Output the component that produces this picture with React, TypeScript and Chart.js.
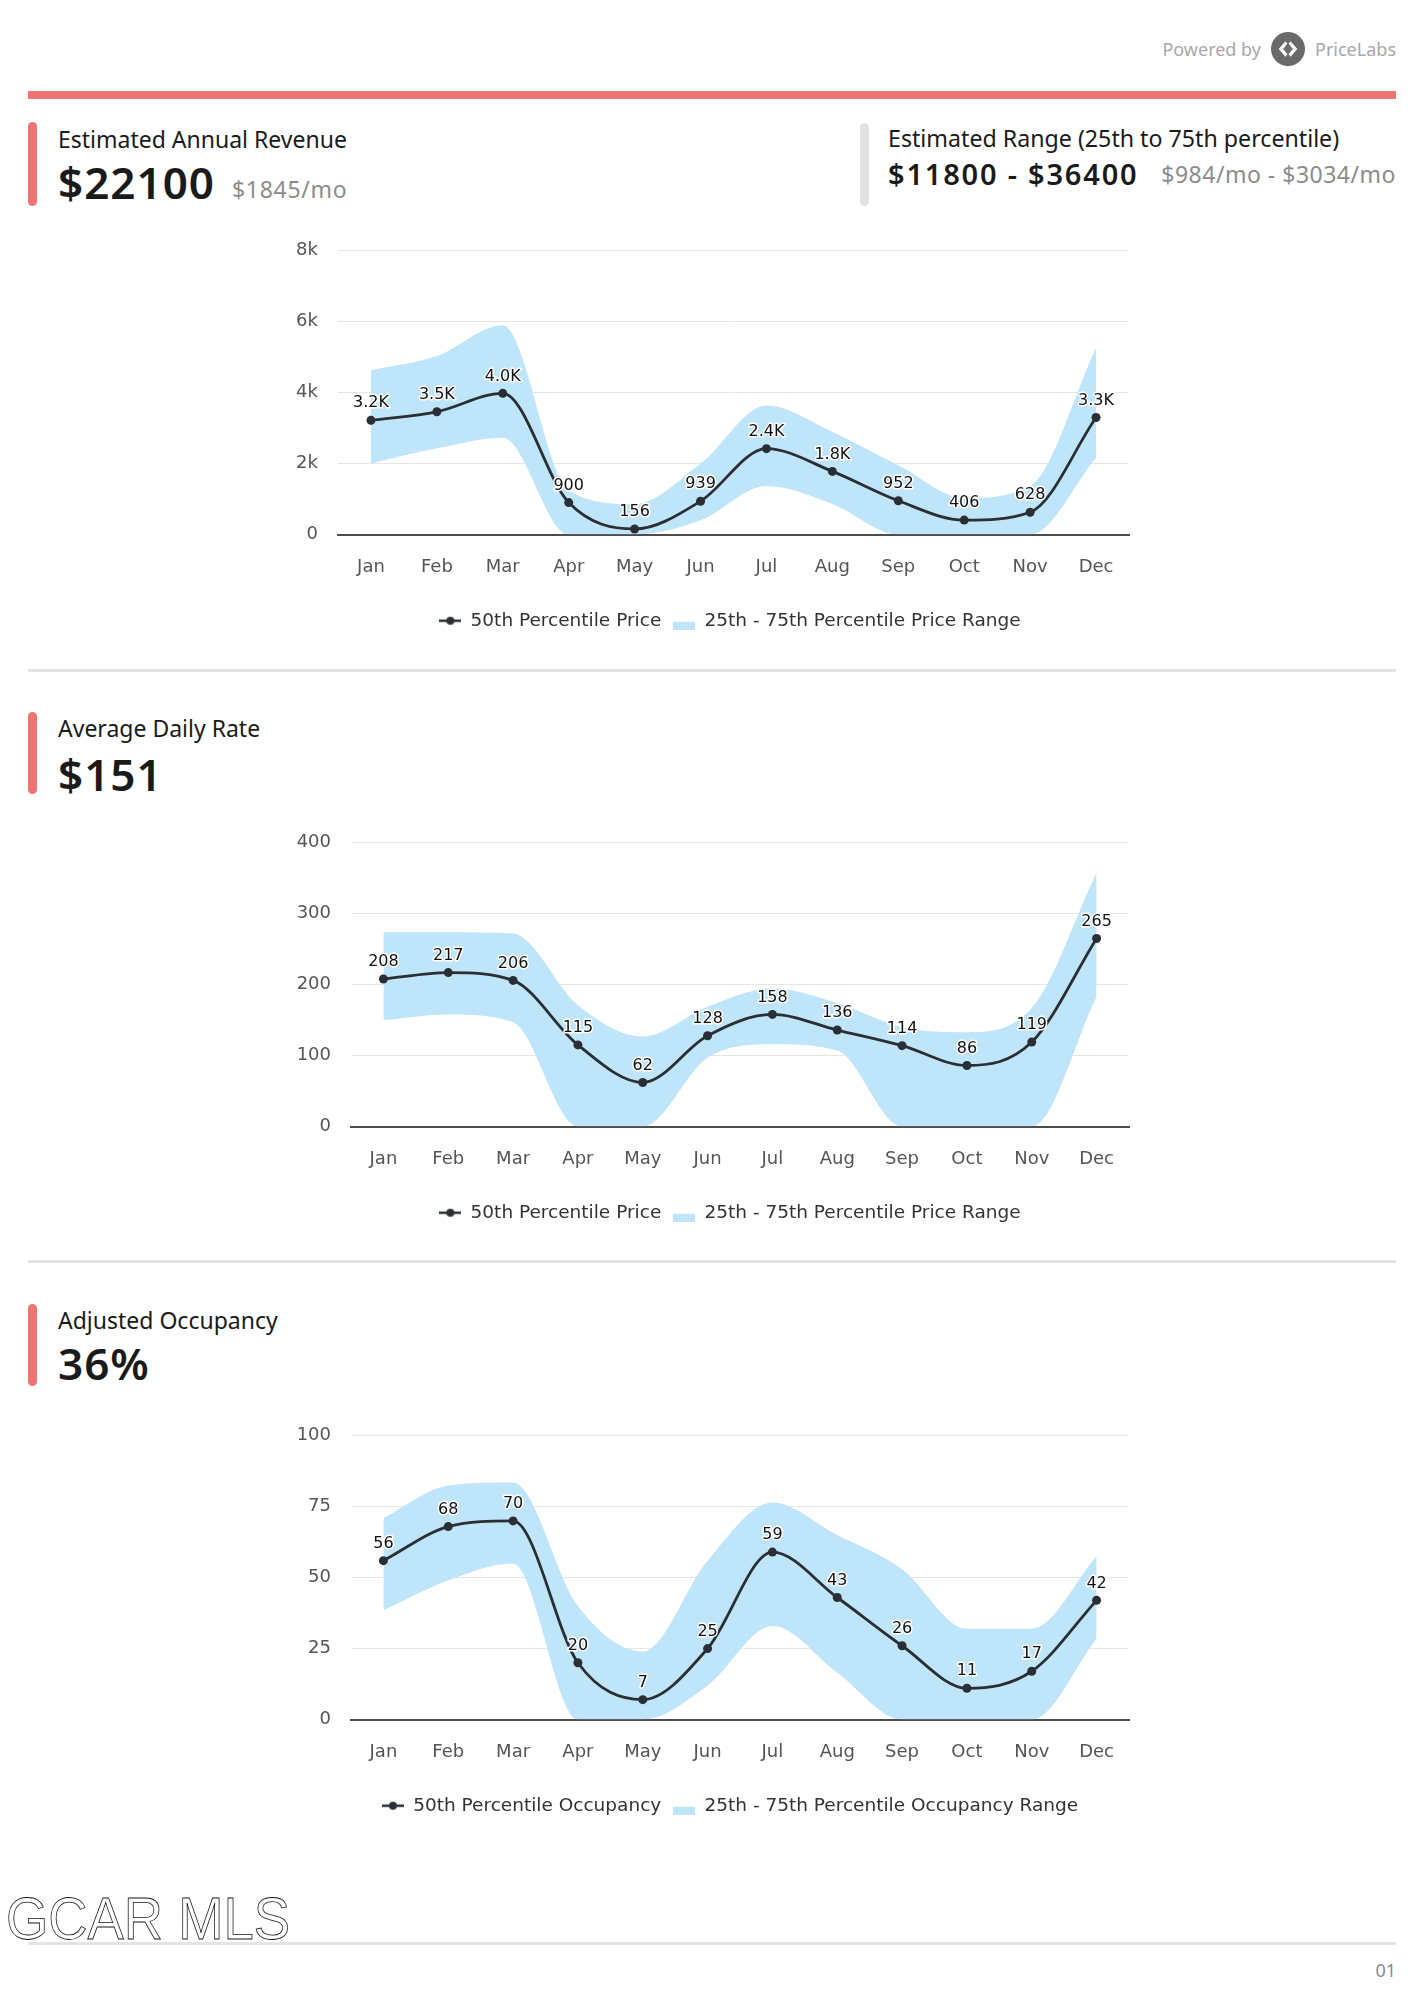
import React, { useEffect, useRef } from 'react';
import { Chart, registerables } from 'chart.js';

Chart.register(...registerables);

const MONTHS = ['Jan', 'Feb', 'Mar', 'Apr', 'May', 'Jun', 'Jul', 'Aug', 'Sep', 'Oct', 'Nov', 'Dec'];

// Estimated revenue (per month)
const REVENUE_MEDIAN = [3220, 3460, 3980, 900, 156, 939, 2420, 1780, 952, 406, 628, 3300];
const REVENUE_P25 = [2000, 2430, 2730, 0, 0, 400, 1370, 860, 0, 0, 0, 2160];
const REVENUE_P75 = [4630, 5030, 5900, 1250, 860, 2000, 3640, 2900, 1950, 1030, 1370, 5260];
const REVENUE_TICKS = [0, 2000, 4000, 6000, 8000];

// Average daily rate
const ADR_MEDIAN = [208, 217, 206, 115, 62, 128, 158, 136, 114, 86, 119, 265];
const ADR_P25 = [150, 158, 147, 0, 0, 97, 116, 107, 0, 0, 0, 183];
const ADR_P75 = [274, 274, 272, 171, 127, 169, 195, 174, 140, 133, 167, 358];
const ADR_TICKS = [0, 100, 200, 300, 400];

// Adjusted occupancy
const OCC_MEDIAN = [56, 68, 70, 20, 7, 25, 59, 43, 26, 11, 17, 42];
const OCC_P25 = [38.5, 49, 55, 0, 0, 12, 33, 16.5, 0, 0, 0, 28.5];
const OCC_P75 = [71, 82.5, 83.5, 40, 24, 56, 76.5, 65, 53, 32, 32, 57.5];
const OCC_TICKS = [0, 25, 50, 75, 100];

const LINE_COLOR = '#2a2e35';
const BAND_COLOR = '#bfe5fa';
const CHART_FONT = '"DejaVu Sans", Verdana, sans-serif';
const HEAD_FONT = '"Noto Sans", "Open Sans", sans-serif';

Chart.defaults.font.family = CHART_FONT;

function makeLineMarker(): HTMLCanvasElement {
  const c = document.createElement('canvas');
  c.width = 22;
  c.height = 12;
  const g = c.getContext('2d')!;
  g.strokeStyle = LINE_COLOR;
  g.lineWidth = 2.5;
  g.beginPath();
  g.moveTo(0, 6);
  g.lineTo(22, 6);
  g.stroke();
  g.fillStyle = LINE_COLOR;
  g.beginPath();
  g.arc(11, 6, 4, 0, Math.PI * 2);
  g.fill();
  return c;
}

function makeBandMarker(): HTMLCanvasElement {
  const c = document.createElement('canvas');
  c.width = 22;
  c.height = 18;
  const g = c.getContext('2d')!;
  g.fillStyle = BAND_COLOR;
  g.fillRect(0, 10, 22, 8);
  return c;
}

type RangeChartProps = {
  top: number;
  median: number[];
  low: number[];
  high: number[];
  ticks: number[];
  tickFmt: (v: number) => string;
  labelFmt: (v: number) => string;
  medianLabel: string;
  rangeLabel: string;
  yAxisWidth: number;
};

const CANVAS_LEFT = 250;
const CANVAS_W = 960;
const CANVAS_H = 430;
const RIGHT_GAP = 81;

function RangeChart(props: RangeChartProps) {
  const ref = useRef<HTMLCanvasElement | null>(null);
  useEffect(() => {
    const canvas = ref.current!;
    const { median, low, high, ticks, tickFmt, labelFmt, medianLabel, rangeLabel, yAxisWidth } = props;
    const lineMarker = makeLineMarker();
    const bandMarker = makeBandMarker();

    const labelPlugin = {
      id: 'medianLabels',
      afterDatasetsDraw(chart: any) {
        const meta = chart.getDatasetMeta(0);
        const ctx = chart.ctx as CanvasRenderingContext2D;
        ctx.save();
        ctx.font = '16px ' + CHART_FONT;
        ctx.textAlign = 'center';
        ctx.textBaseline = 'middle';
        ctx.lineJoin = 'round';
        meta.data.forEach((pt: any, i: number) => {
          const text = labelFmt(median[i]);
          ctx.lineWidth = 3;
          ctx.strokeStyle = '#ffffff';
          ctx.strokeText(text, pt.x, pt.y - 17);
          ctx.fillStyle = '#111111';
          ctx.fillText(text, pt.x, pt.y - 17);
        });
        ctx.restore();
      },
    };

    const chart = new Chart(canvas, {
      type: 'line',
      data: {
        labels: MONTHS,
        datasets: [
          {
            label: medianLabel,
            data: median,
            borderColor: LINE_COLOR,
            backgroundColor: LINE_COLOR,
            borderWidth: 2.8,
            pointRadius: 4.5,
            pointBorderWidth: 0,
            pointBackgroundColor: LINE_COLOR,
            cubicInterpolationMode: 'monotone',
            fill: false,
          },
          {
            label: rangeLabel,
            data: high,
            borderWidth: 0,
            borderColor: 'rgba(0,0,0,0)',
            backgroundColor: BAND_COLOR,
            pointRadius: 0,
            cubicInterpolationMode: 'monotone',
            fill: '+1',
          },
          {
            label: 'low',
            data: low,
            borderWidth: 0,
            borderColor: 'rgba(0,0,0,0)',
            backgroundColor: BAND_COLOR,
            pointRadius: 0,
            cubicInterpolationMode: 'monotone',
            fill: false,
          },
        ],
      },
      options: {
        responsive: false,
        animation: false,
        devicePixelRatio: 1,
        layout: { padding: { top: 11, right: 0, bottom: 10, left: 0 } },
        scales: {
          x: {
            offset: true,
            grid: { display: false, drawTicks: false },
            border: { display: true, color: '#4d4d4d', width: 2 },
            ticks: { color: '#555555', font: { size: 18, family: CHART_FONT }, padding: 22, maxRotation: 0 },
            afterFit: (scale: any) => {
              scale.height = 65;
            },
          },
          y: {
            min: ticks[0],
            max: ticks[ticks.length - 1],
            afterBuildTicks: (scale: any) => {
              scale.ticks = ticks.map((v) => ({ value: v }));
            },
            grid: { color: '#e6e6e6', lineWidth: 1, drawTicks: false },
            border: { display: false },
            ticks: {
              color: '#555555',
              font: { size: 18, family: CHART_FONT },
              padding: 20,
              callback: (v: any) => tickFmt(Number(v)),
            },
            afterFit: (scale: any) => {
              scale.width = yAxisWidth;
            },
          },
          gap: {
            position: 'right',
            display: true,
            grid: { display: false, drawTicks: false },
            border: { display: false },
            ticks: { display: false },
            afterFit: (scale: any) => {
              scale.width = RIGHT_GAP;
            },
          },
        },
        plugins: {
          tooltip: { enabled: false },
          legend: {
            display: true,
            position: 'bottom',
            labels: {
              usePointStyle: true,
              pointStyleWidth: 22,
              padding: 12,
              color: '#333333',
              font: { size: 18.5, family: CHART_FONT },
              generateLabels: () => [
                {
                  text: medianLabel,
                  pointStyle: lineMarker as any,
                  fillStyle: LINE_COLOR,
                  strokeStyle: LINE_COLOR,
                  lineWidth: 0,
                  hidden: false,
                  datasetIndex: 0,
                  fontColor: '#333333',
                },
                {
                  text: rangeLabel,
                  pointStyle: bandMarker as any,
                  fillStyle: BAND_COLOR,
                  strokeStyle: BAND_COLOR,
                  lineWidth: 0,
                  hidden: false,
                  datasetIndex: 1,
                  fontColor: '#333333',
                },
              ],
            },
          },
        },
      } as any,
      plugins: [labelPlugin],
    });
    return () => chart.destroy();
  }, []);
  return (
    <canvas
      ref={ref}
      width={CANVAS_W}
      height={CANVAS_H}
      style={{ position: 'absolute', left: CANVAS_LEFT, top: props.top, width: CANVAS_W, height: CANVAS_H }}
    />
  );
}

function Text(props: {
  x: number;
  y: number;
  size: number;
  color?: string;
  weight?: number;
  ls?: number;
  children: React.ReactNode;
  right?: boolean;
}) {
  const style: React.CSSProperties = {
    position: 'absolute',
    top: props.y,
    transform: 'translateY(-50%)',
    fontFamily: HEAD_FONT,
    fontSize: props.size,
    lineHeight: 1,
    color: props.color || '#1a1a1a',
    fontWeight: props.weight || 400,
    letterSpacing: props.ls || 0,
    whiteSpace: 'nowrap',
  };
  if (props.right) style.right = 1414 - props.x;
  else style.left = props.x;
  return <div style={style}>{props.children}</div>;
}

function Bar(props: { x: number; y: number; w: number; h: number; color: string; r?: number }) {
  return (
    <div
      style={{
        position: 'absolute',
        left: props.x,
        top: props.y,
        width: props.w,
        height: props.h,
        background: props.color,
        borderRadius: props.r || 0,
      }}
    />
  );
}

const RED = '#ee7474';
const SEP = '#e4e4e4';

const revFmt = (v: number) => (v >= 1000 ? (v / 1000).toFixed(1) + 'K' : String(v));
const revTick = (v: number) => (v === 0 ? '0' : v / 1000 + 'k');
const plain = (v: number) => String(v);

export default function App() {
  return (
    <div style={{ position: 'absolute', left: 0, top: 0, width: 1414, height: 2000, background: '#ffffff', overflow: 'hidden' }}>
      {/* Powered by */}
      <div
        style={{
          position: 'absolute',
          right: 18,
          top: 49,
          transform: 'translateY(-50%)',
          display: 'flex',
          alignItems: 'center',
          gap: 10,
          fontFamily: HEAD_FONT,
          fontSize: 18,
          color: '#a8a8a8',
          whiteSpace: 'nowrap',
        }}
      >
        <span>Powered by</span>
        <svg width="34" height="34" viewBox="0 0 33 33">
          <circle cx="16.5" cy="16.5" r="16.5" fill="#6a6a6a" />
          <path d="M14 9 L7.5 16.5 L14 24 L16 21.5 L11.8 16.5 L16 11.5 Z" fill="#ffffff" />
          <path d="M19 9 L25.5 16.5 L19 24 L17 21.5 L21.2 16.5 L17 11.5 Z" fill="#ffffff" />
        </svg>
        <span>PriceLabs</span>
      </div>

      <Bar x={28} y={91} w={1368} h={8} color={RED} />

      {/* Section 1 */}
      <Bar x={28} y={122} w={9} h={84} color={RED} r={5} />
      <Text x={58} y={139} size={23}>Estimated Annual Revenue</Text>
      <Text x={58} y={182} size={44} weight={600} ls={1}>$22100</Text>
      <Text x={232} y={189} size={23} color="#8c8c8c" ls={0.7}>$1845/mo</Text>

      <Bar x={860} y={123} w={9} h={83} color="#e2e2e2" r={5} />
      <Text x={888} y={139} size={23.2}>Estimated Range (25th to 75th percentile)</Text>
      <Text x={888} y={173} size={29} weight={600} ls={1.8}>$11800 - $36400</Text>
      <Text x={1396} y={174} size={23} color="#8c8c8c" ls={0.5} right>$984/mo - $3034/mo</Text>

      <RangeChart
        top={220}
        median={REVENUE_MEDIAN}
        low={REVENUE_P25}
        high={REVENUE_P75}
        ticks={REVENUE_TICKS}
        tickFmt={revTick}
        labelFmt={revFmt}
        medianLabel="50th Percentile Price"
        rangeLabel="25th - 75th Percentile Price Range"
        yAxisWidth={88}
      />

      <Bar x={28} y={669} w={1368} h={3} color={SEP} />

      {/* Section 2 */}
      <Bar x={28} y={712} w={9} h={82} color={RED} r={5} />
      <Text x={58} y={728} size={23}>Average Daily Rate</Text>
      <Text x={58} y={774} size={44} weight={600} ls={1}>$151</Text>

      <RangeChart
        top={812}
        median={ADR_MEDIAN}
        low={ADR_P25}
        high={ADR_P75}
        ticks={ADR_TICKS}
        tickFmt={plain}
        labelFmt={plain}
        medianLabel="50th Percentile Price"
        rangeLabel="25th - 75th Percentile Price Range"
        yAxisWidth={101}
      />

      <Bar x={28} y={1260} w={1368} h={3} color={SEP} />

      {/* Section 3 */}
      <Bar x={28} y={1304} w={9} h={82} color={RED} r={5} />
      <Text x={58} y={1320} size={23}>Adjusted Occupancy</Text>
      <Text x={58} y={1363} size={44} weight={600} ls={1}>36%</Text>

      <RangeChart
        top={1405}
        median={OCC_MEDIAN}
        low={OCC_P25}
        high={OCC_P75}
        ticks={OCC_TICKS}
        tickFmt={plain}
        labelFmt={plain}
        medianLabel="50th Percentile Occupancy"
        rangeLabel="25th - 75th Percentile Occupancy Range"
        yAxisWidth={101}
      />

      {/* Footer */}
      <svg style={{ position: 'absolute', left: 4, top: 1887, overflow: 'visible' }} width="300" height="60">
        <text
          x="2"
          y="52"
          textLength="284"
          lengthAdjust="spacingAndGlyphs"
          fontFamily='"Liberation Sans", Arial, sans-serif'
          fontSize="60"
          fill="#ffffff"
          stroke="#111111"
          strokeWidth="0.8"
        >
          GCAR MLS
        </text>
      </svg>
      <Bar x={28} y={1942} w={1368} h={3} color={SEP} />
      <Text x={1396} y={1970} size={18} color="#8c8c8c" right>01</Text>
    </div>
  );
}
